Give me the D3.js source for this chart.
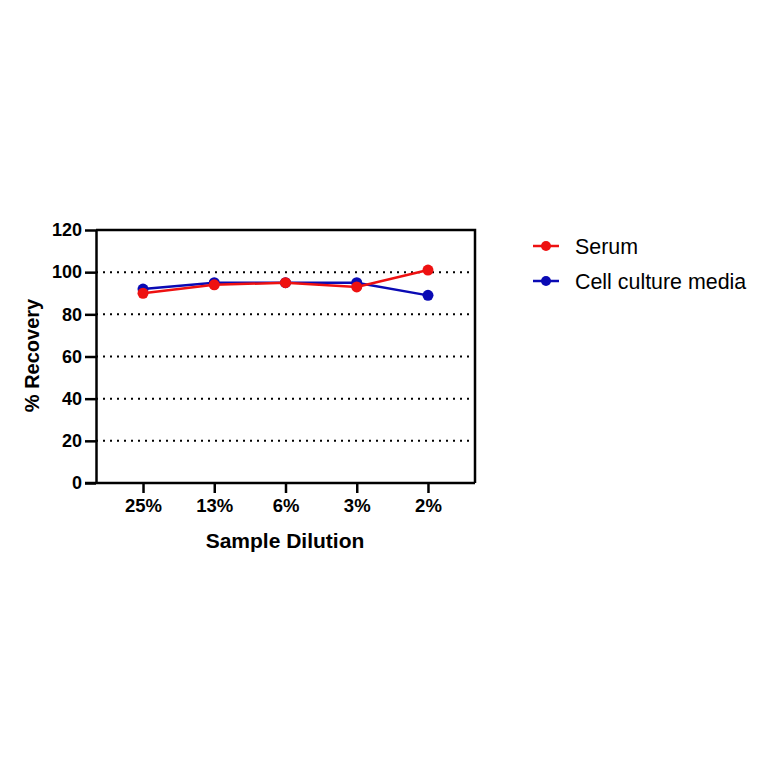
<!DOCTYPE html>
<html>
<head>
<meta charset="utf-8">
<script src="https://cdn.jsdelivr.net/npm/d3@7"></script>
<style>
  body { margin: 0; background: #fff; }
  text { font-family: "Liberation Sans", Arial, sans-serif; }
</style>
</head>
<body>
<div id="chart"></div>
<script>
// chart data
var dilutions = ["25%", "13%", "6%", "3%", "2%"];
var serum = [90, 94, 95, 93, 101];
var media = [92, 95, 95, 95, 89];
var yTicks = [0, 20, 40, 60, 80, 100, 120];
var gridTicks = [20, 40, 60, 80, 100];

var svgWidth = 764;
var svgHeight = 764;

var margin = { top: 230, left: 96 };
var width = 379;
var height = 253;

var svg = d3.select("#chart")
  .append("svg")
  .attr("width", svgWidth)
  .attr("height", svgHeight);

var chartGroup = svg.append("g")
  .attr("transform", `translate(${margin.left}, ${margin.top})`);

var xScale = d3.scalePoint()
  .domain(dilutions)
  .range([0, width])
  .padding(0.66);

var yScale = d3.scaleLinear()
  .domain([0, 120])
  .range([height, 0]);

// dotted gridlines
chartGroup.selectAll(".grid")
  .data(gridTicks)
  .enter()
  .append("line")
  .attr("x1", 0)
  .attr("x2", width)
  .attr("y1", d => yScale(d))
  .attr("y2", d => yScale(d))
  .attr("stroke", "#000")
  .attr("stroke-width", 2)
  .attr("stroke-dasharray", "2,5");

// frame (top and right)
chartGroup.append("path")
  .attr("d", `M0,0H${width}V${height}`)
  .attr("fill", "none")
  .attr("stroke", "#000")
  .attr("stroke-width", 2.5);

// y axis
var leftAxis = d3.axisLeft(yScale)
  .tickValues(yTicks)
  .tickSize(11)
  .tickPadding(3)
  .tickSizeOuter(0);

var yAxis = chartGroup.append("g").call(leftAxis);

// x axis
var bottomAxis = d3.axisBottom(xScale)
  .tickSize(10)
  .tickPadding(6)
  .tickSizeOuter(0);

var xAxis = chartGroup.append("g")
  .attr("transform", `translate(0, ${height})`)
  .call(bottomAxis);

[xAxis, yAxis].forEach(function(ax) {
  ax.select(".domain").attr("stroke-width", 2.5);
  ax.selectAll(".tick line").attr("stroke-width", 2.5);
  ax.selectAll(".tick text")
    .attr("font-weight", "bold")
    .attr("fill", "#000");
});
yAxis.selectAll(".tick text").attr("font-size", 18);
xAxis.selectAll(".tick text").attr("font-size", 18.5);
// extend x axis line to left under y ticks
xAxis.select(".domain").attr("d", `M-11,0H${width}`);

// series
var series = [
  { name: "Cell culture media", values: media, color: "#0a0ab4" },
  { name: "Serum", values: serum, color: "#ee1111" }
];

var line = d3.line()
  .x((d, i) => xScale(dilutions[i]))
  .y(d => yScale(d));

series.forEach(function(s) {
  chartGroup.append("path")
    .datum(s.values)
    .attr("d", line)
    .attr("fill", "none")
    .attr("stroke", s.color)
    .attr("stroke-width", 2.5);

  chartGroup.selectAll(null)
    .data(s.values)
    .enter()
    .append("circle")
    .attr("cx", (d, i) => xScale(dilutions[i]))
    .attr("cy", d => yScale(d))
    .attr("r", 5.5)
    .attr("fill", s.color);
});

// axis titles
svg.append("text")
  .attr("x", 285)
  .attr("y", 548)
  .attr("text-anchor", "middle")
  .attr("font-size", 21)
  .attr("font-weight", "bold")
  .text("Sample Dilution");

svg.append("text")
  .attr("transform", `translate(39, ${margin.top + height / 2 - 1}) rotate(-90)`)
  .attr("text-anchor", "middle")
  .attr("font-size", 20)
  .attr("font-weight", "bold")
  .text("% Recovery");

// legend
var legendItems = [
  { name: "Serum", color: "#ee1111" },
  { name: "Cell culture media", color: "#0a0ab4" }
];

var legend = svg.append("g")
  .attr("transform", "translate(533, 246)");

legendItems.forEach(function(item, i) {
  var g = legend.append("g").attr("transform", `translate(0, ${i * 35})`);
  g.append("line")
    .attr("x1", 0).attr("x2", 26)
    .attr("stroke", item.color)
    .attr("stroke-width", 2.5);
  g.append("circle")
    .attr("cx", 13).attr("r", 5)
    .attr("fill", item.color);
  g.append("text")
    .attr("x", 42)
    .attr("dy", "0.35em")
    .attr("font-size", 21.4)
    .text(item.name);
});
</script>
</body>
</html>
